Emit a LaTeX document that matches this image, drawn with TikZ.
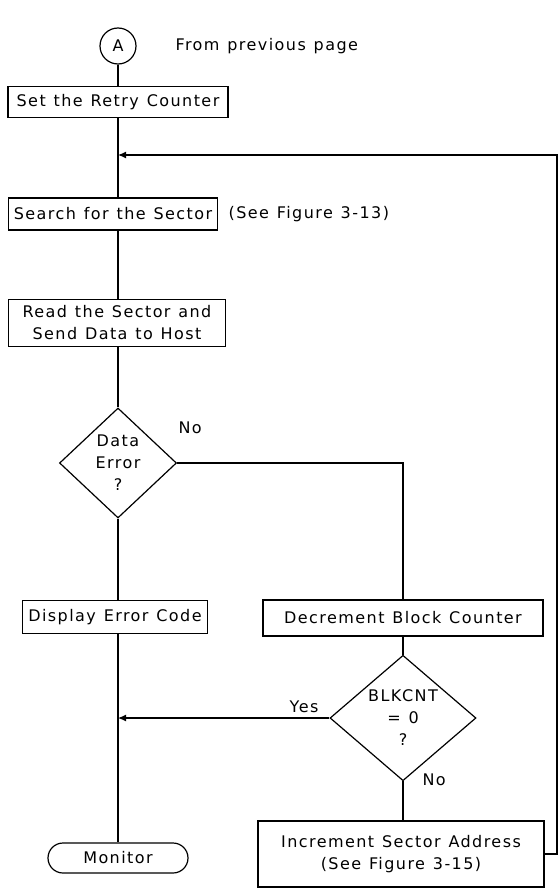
\documentclass[tikz,border=0pt]{standalone}
\usepackage{fontspec}
\setmainfont{DejaVu Sans}[LetterSpace=9,WordSpace=1.2]
\usetikzlibrary{shapes.geometric,arrows.meta}

\begin{document}
\begin{tikzpicture}[x=1pt,y=-1pt,line width=1.2pt,
  font=\fontsize{16}{22}\selectfont,
  proc/.style={draw,rectangle,inner sep=2pt,align=center},
  decide/.style={draw,diamond,inner sep=0pt,align=center},
  term/.style={draw,rectangle,rounded corners=15pt,inner sep=0pt},
  conn/.style={draw,circle,inner sep=0pt,minimum size=36pt},
  lbl/.style={inner sep=0pt},
  arr/.style={-{Latex[length=8pt,width=7pt]}}]
\useasboundingbox (0,0) rectangle (558,891);

% connector from previous page
\node[conn] (A) at (118,46) {A};
\node[lbl,anchor=west] (fromprev) at (175,46) {From previous page};

% main column
\node[proc,minimum width=220pt,minimum height=31pt] (retry) at (118,102) {Set the Retry Counter};
\node[proc,minimum width=209pt,minimum height=32pt] (search) at (113,214) {Search for the Sector};
\node[lbl,anchor=west] (seefig13) at (228,214) {(See Figure 3-13)};
\node[proc,minimum width=217pt,minimum height=47pt] (read) at (117,323) {Read the Sector and\\Send Data to Host};
\node[decide,minimum width=117pt,minimum height=110pt] (derr) at (118,463) {Data\\Error\\?};
\node[lbl,anchor=west] (no1) at (178,428) {No};
\node[proc,minimum width=185pt,minimum height=33pt] (disp) at (115,617) {Display Error Code};
\node[term,minimum width=140pt,minimum height=30pt] (mon) at (118,858) {Monitor};

% right column
\node[proc,minimum width=280pt,minimum height=36pt] (dec) at (403,618) {Decrement Block Counter};
\node[decide,minimum width=146pt,minimum height=109pt] (blk) at (403,718) {BLKCNT\\= 0\\?};
\node[lbl] (yes) at (304,707) {Yes};
\node[lbl,anchor=west] (no2) at (422,780) {No};
\node[proc,minimum width=286pt,minimum height=66pt] (inc) at (401,854) {Increment Sector Address\\(See Figure 3-15)};

% junction points on the main column and the loop corner
\coordinate (jloop) at (118,155);
\coordinate (jyes) at (118,718);
\coordinate (rtop) at (557,155);

% flow lines
\draw (A) -- (retry.north -| A);
\draw (retry.south -| A) -- (search.north -| A);
\draw (search.south -| A) -- (read.north -| A);
\draw (read.south -| A) -- (derr.north);
\draw (derr.south) -- (disp.north -| A);
\draw (disp.south -| A) -- (mon.north);
\draw (derr.east) -| (dec.north);
\draw (dec.south -| blk) -- (blk.north);
\draw (blk.south) -- (inc.north -| blk);
\draw[arr] (blk.west) -- (jyes);
\draw[arr] (inc.east) -| (rtop) -- (jloop);
\end{tikzpicture}
\end{document}
